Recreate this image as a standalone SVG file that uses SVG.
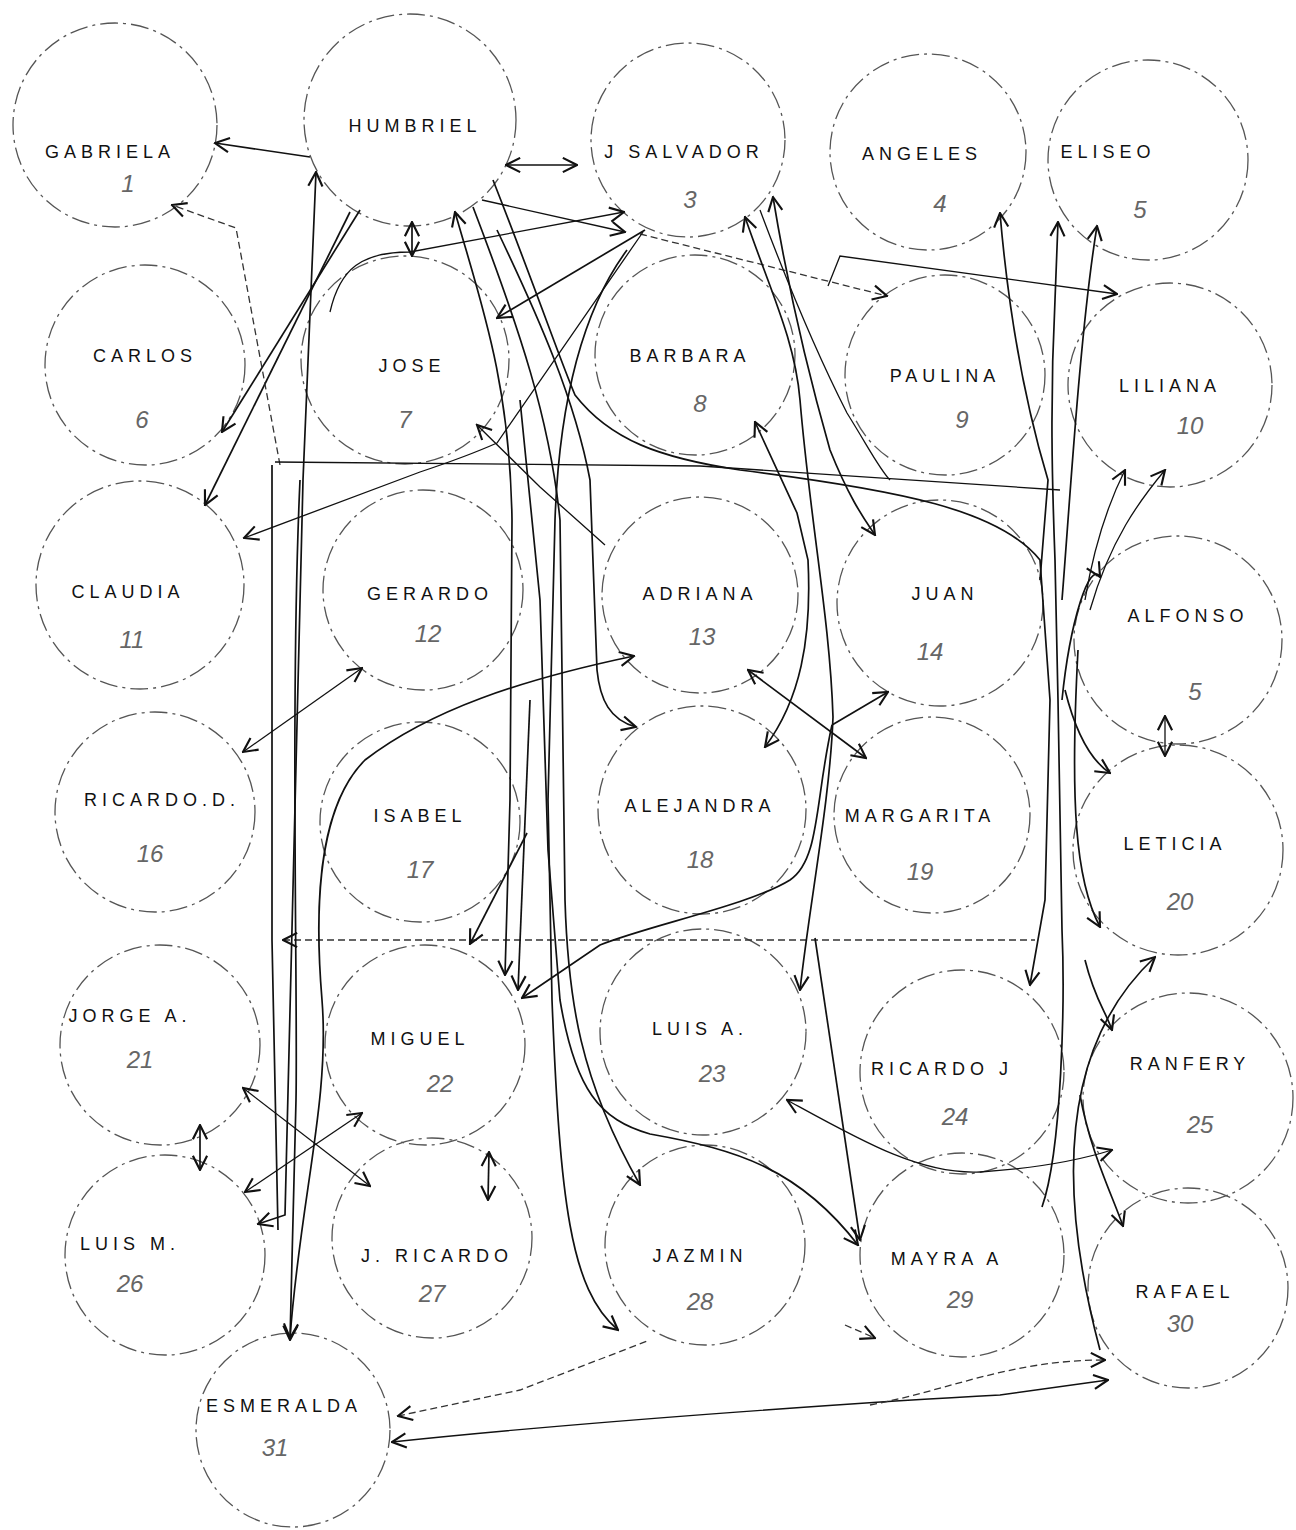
<svg xmlns="http://www.w3.org/2000/svg" width="1296" height="1530" viewBox="0 0 1296 1530">
<style>
.c{fill:none;stroke:#555;stroke-width:1.3;stroke-dasharray:18 5 3 5}
.l{font-family:"Liberation Sans",Arial,sans-serif;font-size:18px;letter-spacing:5px;fill:#111;text-anchor:middle}
.n{font-family:"Liberation Sans",Arial,sans-serif;font-size:24px;fill:#666;text-anchor:middle;font-style:italic}
.e path{fill:none;stroke:#111;stroke-width:1.7}
.e .d{stroke-dasharray:7 4;stroke:#333;stroke-width:1.3}
.e .t{stroke-width:1.3}
</style>
<defs>
<marker id="a" viewBox="0 0 12 12" refX="11" refY="6" markerWidth="17" markerHeight="17" markerUnits="userSpaceOnUse" orient="auto-start-reverse">
<path d="M1,1 L11,6 L1,11" fill="none" stroke="#111" stroke-width="1.5"/>
</marker>
</defs>
<rect width="1296" height="1530" fill="#fff"/>

<g id="n1"><circle class="c" cx="115" cy="125" r="102"/><text class="l" x="110" y="158">GABRIELA</text><text class="n" x="128" y="192">1</text></g>
<g id="n2"><circle class="c" cx="410" cy="120" r="106"/><text class="l" x="415" y="132">HUMBRIEL</text></g>
<g id="n3"><circle class="c" cx="688" cy="140" r="97"/><text class="l" x="684" y="158">J SALVADOR</text><text class="n" x="690" y="208">3</text></g>
<g id="n4"><circle class="c" cx="928" cy="152" r="98"/><text class="l" x="922" y="160">ANGELES</text><text class="n" x="940" y="212">4</text></g>
<g id="n5"><circle class="c" cx="1148" cy="160" r="100"/><text class="l" x="1108" y="158">ELISEO</text><text class="n" x="1140" y="218">5</text></g>

<g id="n6"><circle class="c" cx="145" cy="365" r="100"/><text class="l" x="145" y="362">CARLOS</text><text class="n" x="142" y="428">6</text></g>
<g id="n7"><circle class="c" cx="405" cy="360" r="104"/><text class="l" x="412" y="372">JOSE</text><text class="n" x="405" y="428">7</text></g>
<g id="n8"><circle class="c" cx="695" cy="355" r="100"/><text class="l" x="690" y="362">BARBARA</text><text class="n" x="700" y="412">8</text></g>
<g id="n9"><circle class="c" cx="945" cy="375" r="100"/><text class="l" x="945" y="382">PAULINA</text><text class="n" x="962" y="428">9</text></g>
<g id="n10"><circle class="c" cx="1170" cy="385" r="102"/><text class="l" x="1170" y="392">LILIANA</text><text class="n" x="1190" y="434">10</text></g>

<g id="n11"><circle class="c" cx="140" cy="585" r="104"/><text class="l" x="128" y="598">CLAUDIA</text><text class="n" x="132" y="648">11</text></g>
<g id="n12"><circle class="c" cx="423" cy="590" r="100"/><text class="l" x="430" y="600">GERARDO</text><text class="n" x="428" y="642">12</text></g>
<g id="n13"><circle class="c" cx="700" cy="595" r="98"/><text class="l" x="700" y="600">ADRIANA</text><text class="n" x="702" y="645">13</text></g>
<g id="n14"><circle class="c" cx="940" cy="603" r="103"/><text class="l" x="945" y="600">JUAN</text><text class="n" x="930" y="660">14</text></g>
<g id="n15"><circle class="c" cx="1178" cy="640" r="104"/><text class="l" x="1188" y="622">ALFONSO</text><text class="n" x="1195" y="700">5</text></g>

<g id="n16"><circle class="c" cx="155" cy="812" r="100"/><text class="l" x="162" y="806">RICARDO.D.</text><text class="n" x="150" y="862">16</text></g>
<g id="n17"><circle class="c" cx="420" cy="822" r="100"/><text class="l" x="420" y="822">ISABEL</text><text class="n" x="420" y="878">17</text></g>
<g id="n18"><circle class="c" cx="702" cy="810" r="104"/><text class="l" x="700" y="812">ALEJANDRA</text><text class="n" x="700" y="868">18</text></g>
<g id="n19"><circle class="c" cx="932" cy="815" r="98"/><text class="l" x="920" y="822">MARGARITA</text><text class="n" x="920" y="880">19</text></g>
<g id="n20"><circle class="c" cx="1178" cy="850" r="105"/><text class="l" x="1175" y="850">LETICIA</text><text class="n" x="1180" y="910">20</text></g>

<g id="n21"><circle class="c" cx="160" cy="1045" r="100"/><text class="l" x="130" y="1022">JORGE A.</text><text class="n" x="140" y="1068">21</text></g>
<g id="n22"><circle class="c" cx="425" cy="1045" r="100"/><text class="l" x="420" y="1045">MIGUEL</text><text class="n" x="440" y="1092">22</text></g>
<g id="n23"><circle class="c" cx="703" cy="1032" r="103"/><text class="l" x="700" y="1035">LUIS A.</text><text class="n" x="712" y="1082">23</text></g>
<g id="n24"><circle class="c" cx="962" cy="1072" r="102"/><text class="l" x="942" y="1075">RICARDO J</text><text class="n" x="955" y="1125">24</text></g>
<g id="n25"><circle class="c" cx="1188" cy="1098" r="105"/><text class="l" x="1190" y="1070">RANFERY</text><text class="n" x="1200" y="1133">25</text></g>

<g id="n26"><circle class="c" cx="165" cy="1255" r="100"/><text class="l" x="130" y="1250">LUIS M.</text><text class="n" x="130" y="1292">26</text></g>
<g id="n27"><circle class="c" cx="432" cy="1238" r="100"/><text class="l" x="437" y="1262">J. RICARDO</text><text class="n" x="432" y="1302">27</text></g>
<g id="n28"><circle class="c" cx="705" cy="1245" r="100"/><text class="l" x="700" y="1262">JAZMIN</text><text class="n" x="700" y="1310">28</text></g>
<g id="n29"><circle class="c" cx="962" cy="1255" r="102"/><text class="l" x="947" y="1265">MAYRA A</text><text class="n" x="960" y="1308">29</text></g>
<g id="n30"><circle class="c" cx="1188" cy="1288" r="100"/><text class="l" x="1185" y="1298">RAFAEL</text><text class="n" x="1180" y="1332">30</text></g>
<g id="n31"><circle class="c" cx="293" cy="1430" r="97"/><text class="l" x="284" y="1412">ESMERALDA</text><text class="n" x="275" y="1456">31</text></g>

<g id="edges" class="e">
<path d="M310 157 L215 143" marker-end="url(#a)"/>
<path d="M506 165 L577 165" marker-start="url(#a)" marker-end="url(#a)"/>
<path d="M412 222 L412 256" marker-start="url(#a)" marker-end="url(#a)"/>
<path d="M316 172 L303 480 L285 1215 L258 1224" marker-start="url(#a)" marker-end="url(#a)"/>
<path d="M360 210 L222 432" marker-end="url(#a)"/>
<path d="M350 212 L205 505" marker-end="url(#a)"/>
<path class="d" d="M280 465 L236 228 L172 205" marker-end="url(#a)"/>
<path class="t" d="M330 312 C340 268 362 252 410 252 L624 212" marker-end="url(#a)"/>
<path class="t" d="M482 200 L625 232" marker-end="url(#a)"/>
<path class="d" d="M640 234 L887 296" marker-end="url(#a)"/>
<path class="t" d="M828 286 L840 256 L1117 294" marker-end="url(#a)"/>
<path d="M645 230 L497 318" marker-end="url(#a)"/>
<path class="t" d="M643 232 L497 443 C470 455 450 462 420 472 L244 538" marker-end="url(#a)"/>
<path class="t" d="M275 462 L700 466 L1060 490"/>
<path class="d" d="M283 940 L1035 940" marker-start="url(#a)"/>
<path d="M272 465 L272 940 L278 1230"/>
<path d="M300 480 C290 700 298 1000 296 1100 L290 1340" marker-end="url(#a)"/>
<path d="M455 212 C480 300 510 380 512 520 L510 800 L505 975" marker-start="url(#a)" marker-end="url(#a)"/>
<path d="M473 207 C520 330 550 420 560 520 L565 900 C568 1000 580 1080 640 1185" marker-end="url(#a)"/>
<path d="M493 180 C540 300 560 360 575 395 C610 440 660 458 740 470 C900 490 1000 510 1040 560 L1050 700 L1045 900 L1030 985" marker-end="url(#a)"/>
<path d="M627 250 C590 300 560 380 555 520 L548 800 L552 1000 C560 1200 570 1290 618 1330" marker-end="url(#a)"/>
<path d="M497 230 C540 320 575 400 590 480 L597 670 C600 700 610 720 636 727" marker-end="url(#a)"/>
<path d="M520 400 L540 600 L548 850 L560 1000 C575 1090 600 1120 650 1134 C740 1150 800 1170 858 1245" marker-end="url(#a)"/>
<path class="t" d="M477 425 L540 487 L605 545" marker-start="url(#a)"/>
<path d="M527 833 L470 944" marker-end="url(#a)"/>
<path d="M530 700 L518 990" marker-end="url(#a)"/>
<path d="M745 217 C770 290 795 340 800 400 C810 520 830 620 833 717 C830 800 810 900 800 990" marker-start="url(#a)" marker-end="url(#a)"/>
<path d="M773 197 C790 300 810 380 830 450 C850 500 865 520 875 535" marker-start="url(#a)" marker-end="url(#a)"/>
<path class="t" d="M760 210 C790 290 820 360 847 413 C870 450 880 470 890 480"/>
<path d="M755 422 L797 513 L808 560 C812 640 800 700 765 747" marker-start="url(#a)" marker-end="url(#a)"/>
<path d="M748 670 L866 758" marker-start="url(#a)" marker-end="url(#a)"/>
<path d="M832 725 L888 692" marker-end="url(#a)"/>
<path d="M832 725 C815 800 820 860 790 880 C750 905 650 925 600 945 L522 998" marker-end="url(#a)"/>
<path d="M290 1338 C300 1200 330 1100 322 1000 C312 880 325 800 365 760 C430 710 520 680 634 656" marker-start="url(#a)" marker-end="url(#a)"/>
<path class="t" d="M362 668 L243 752" marker-start="url(#a)" marker-end="url(#a)"/>
<path d="M200 1125 L200 1170" marker-start="url(#a)" marker-end="url(#a)"/>
<path class="t" d="M243 1088 L370 1186" marker-start="url(#a)" marker-end="url(#a)"/>
<path class="t" d="M245 1192 L362 1113" marker-start="url(#a)" marker-end="url(#a)"/>
<path d="M489 1152 L488 1200" marker-start="url(#a)" marker-end="url(#a)"/>
<path class="d" d="M398 1416 L520 1390 L650 1340" marker-start="url(#a)"/>
<path class="t" d="M392 1442 C600 1420 900 1400 1000 1395 L1108 1380" marker-start="url(#a)" marker-end="url(#a)"/>
<path class="d" d="M870 1405 C950 1390 1010 1360 1105 1360" marker-end="url(#a)"/>
<path d="M815 938 L860 1240" marker-end="url(#a)"/>
<path class="t" d="M787 1100 C860 1140 920 1175 980 1172 C1040 1168 1080 1160 1112 1150" marker-start="url(#a)" marker-end="url(#a)"/>
<path class="d" d="M845 1325 L875 1338" marker-end="url(#a)"/>
<path d="M1042 1207 C1062 1150 1065 1000 1062 930 L1058 700 L1055 560 C1052 480 1050 400 1055 300 L1058 222" marker-end="url(#a)"/>
<path d="M1040 580 L1048 480 C1030 420 1010 330 1000 213" marker-end="url(#a)"/>
<path d="M1062 600 C1070 500 1080 330 1097 226" marker-end="url(#a)"/>
<path d="M1062 700 C1070 620 1090 560 1100 577" marker-end="url(#a)"/>
<path d="M1065 690 C1075 730 1090 760 1110 773" marker-end="url(#a)"/>
<path d="M1078 650 C1070 800 1075 880 1100 927" marker-end="url(#a)"/>
<path class="t" d="M1165 716 L1165 756" marker-start="url(#a)" marker-end="url(#a)"/>
<path class="t" d="M1085 600 C1095 540 1110 500 1125 470" marker-end="url(#a)"/>
<path class="t" d="M1090 610 C1110 540 1140 500 1165 470" marker-end="url(#a)"/>
<path d="M1100 1350 C1060 1200 1055 1050 1155 957" marker-end="url(#a)"/>
<path d="M1085 960 C1095 1000 1105 1010 1112 1030" marker-end="url(#a)"/>
<path d="M1080 1095 C1090 1150 1110 1190 1123 1226" marker-end="url(#a)"/>
</g>
</svg>
